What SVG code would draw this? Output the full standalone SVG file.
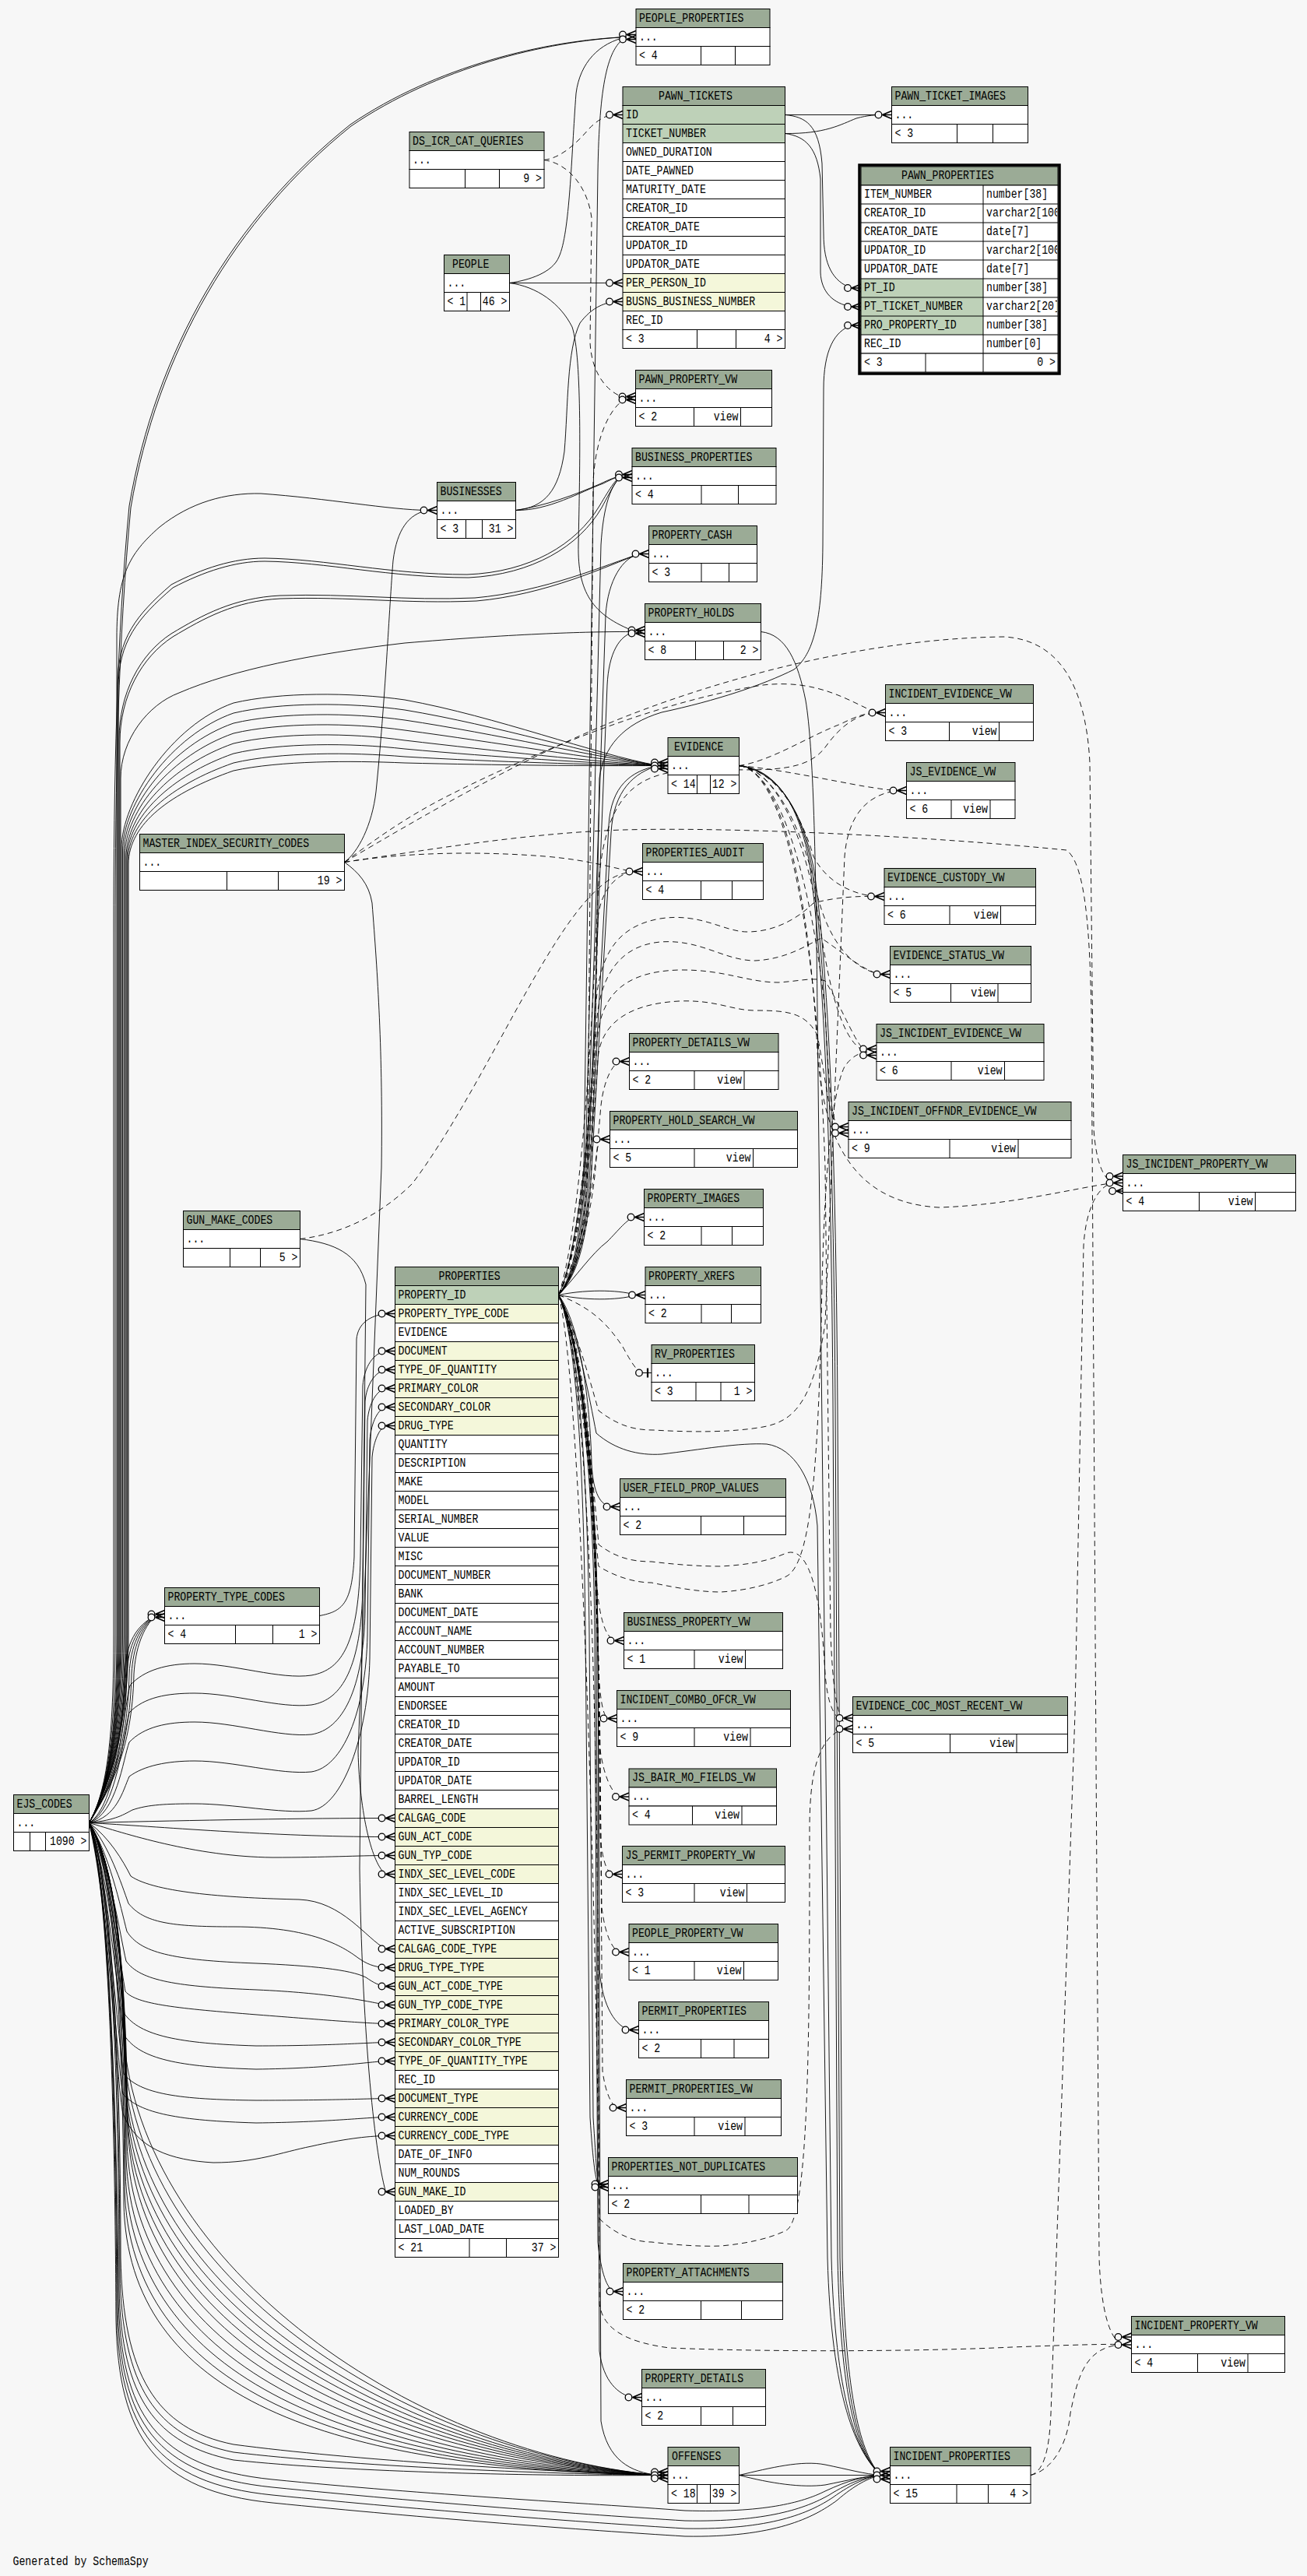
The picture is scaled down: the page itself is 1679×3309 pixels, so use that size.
<svg xmlns="http://www.w3.org/2000/svg" width="1679" height="3309" viewBox="0 0 1679 3309">
<style>
.h{fill:#9bab96;stroke:#000;stroke-width:1}
.w{fill:#fff;stroke:#000;stroke-width:1}
.k{fill:#bed1b8}
.f{fill:#f4f7da}
.s{fill:none;stroke:#000;stroke-width:1}
.t{font-family:"Liberation Mono","DejaVu Sans Mono",monospace;font-size:13.2px;fill:#000}
.e{text-anchor:end}
.c{fill:none;stroke:#000;stroke-width:0.9}
.d{fill:none;stroke:#000;stroke-width:0.9;stroke-dasharray:7 5}
</style>
<defs>
<g id="cf"><path d="M-12,0L0,-5M-12,0L0,0M-12,0L0,5" fill="none" stroke="#000" stroke-width="1.6"/><circle cx="-17" cy="0" r="4.3" fill="#f7f7f7" stroke="#000" stroke-width="1.3"/></g>
<g id="c1"><path d="M-12,0H0" fill="none" stroke="#000" stroke-width="1"/><path d="M-5,-6V6" stroke="#000" stroke-width="2.2"/><circle cx="-16" cy="0" r="4.3" fill="#f7f7f7" stroke="#000" stroke-width="1.3"/></g>
<clipPath id="ppc"><rect x="0" y="0" width="252" height="264"/></clipPath>
</defs>
<rect width="1679" height="3309" fill="#f7f7f7"/>

<g id="connectors">
<!-- EJS_CODES upward -->
<path class="c" d="M114.5,2341.5C138,2300 146,2230 146,2100L146,1200C146,1000 150,820 166,650C200,450 300,280 450,160C560,85 700,52 805,47.5"/>
<path class="c" d="M114.5,2341.5C138,2300 148,2230 148,2100L148,1200C148,1000 152,822 168,652C202,452 302,282 451,162C561,87 700,53 805,47.5"/>
<path class="c" d="M114.5,2341.5C138,2300 150,2230 150,2100L150,820C150,740 165,712 205,677C245,645 290,633 335,634C420,640 500,655 549.5,655.5"/>
<path class="c" d="M114.5,2341.5C138,2300 151,2230 151,2100L151,880C151,820 175,790 220,751C260,730 300,717 340,717C420,718 500,738 600,738C680,735 740,700 770,650C785,625 792,613 800,611.5"/>
<path class="c" d="M114.5,2341.5C138,2300 152,2230 152,2100L152,884C152,824 177,794 222,755C262,734 302,721 340,721C420,722 500,742 602,742C684,738 744,702 773,652C787,626 793,613 800,611.5"/>
<path class="c" d="M114.5,2341.5C138,2300 153,2230 153,2100L153,950C153,890 180,840 220,814C260,790 300,768 360,765C450,762 520,772 610,768C700,760 780,725 821.5,711.5"/>
<path class="c" d="M114.5,2341.5C138,2300 154,2230 154,2100L154,954C154,894 182,844 222,818C262,794 302,772 360,769C450,766 520,776 612,772C702,764 780,727 821.5,711.5"/>
<path class="c" d="M114.5,2341.5C138,2300 155,2230 155,2100L155,1000C155,950 190,905 230,890C300,860 400,840 520,826C650,815 750,811 816.5,811.5"/>
<path class="c" d="M114.5,2341.5C138,2300 156,2230 156,2100L156,1090C156,1030 220,931 300,903C360,889 450,889 520,899C640,921 760,968 846,983.5"/>
<path class="c" d="M114.5,2341.5C138,2300 157.5,2230 157.5,2100L157.5,1092C157.5,1034 220,944 300,916C360,902 450,902 520,912C640,932 760,970 846,983.5"/>
<path class="c" d="M114.5,2341.5C138,2300 159,2230 159,2100L159,1095C159,1038 220,957 300,929C360,915 450,915 520,925C640,943 760,972 846,983.5"/>
<path class="c" d="M114.5,2341.5C138,2300 160.5,2230 160.5,2100L160.5,1098C160.5,1042 220,970 300,942C360,928 450,928 520,938C640,954 760,975 846,983.5"/>
<path class="c" d="M114.5,2341.5C138,2300 162,2230 162,2100L162,1101C162,1046 220,983 300,955C360,941 450,941 520,951C640,965 760,978 846,983.5"/>
<path class="c" d="M114.5,2341.5C138,2300 163,2230 163,2100L163,1104C163,1050 220,996 300,968C360,954 450,954 520,962C640,973 760,980 846,983.5"/>
<path class="c" d="M114.5,2341.5C138,2300 164,2230 164,2100L164,1107C164,1054 220,1008 300,980C360,966 450,966 520,972C640,979 760,982 846,983.5"/>
<path class="c" d="M114.5,2341.5C138,2300 165,2230 165,2100L165,1110C165,1058 220,1018 300,990C360,977 450,977 520,980C640,983 760,984 846,983.5"/>
<!-- EJS to PROPERTY_TYPE_CODES -->
<path class="c" d="M114.5,2341.5C140,2300 158,2250 160,2150C162,2110 175,2088 199.5,2075.5"/>
<path class="c" d="M114.5,2341.5C140,2300 161,2250 163,2150C165,2112 177,2089 199.5,2075.5"/>
<path class="c" d="M114.5,2341.5C140,2300 164,2250 166,2150C168,2114 179,2090 199.5,2075.5"/>
<path class="c" d="M114.5,2341.5C140,2300 167,2250 169,2150C171,2116 181,2091 199.5,2075.5"/>
<path class="c" d="M114.5,2341.5C140,2300 170,2250 172,2150C174,2118 183,2092 199.5,2075.5"/>
<!-- EJS to PROPERTIES fk rows -->
<path class="c" d="M114.5,2341.5C250,2338 400,2335.5 495.5,2335.5"/>
<path class="c" d="M114.5,2341.5C200,2346 350,2359.5 495.5,2359.5"/>
<path class="c" d="M114.5,2341.5C160,2355 250,2385 350,2386C420,2386 460,2383.5 495.5,2383.5"/>
<path class="c" d="M114.5,2341.5C140,2360 158,2390 168,2410C200,2432 300,2438 384,2440C440,2442 470,2490 495.5,2503.5"/>
<path class="c" d="M114.5,2341.5C140,2370 156,2420 165,2445C185,2470 220,2475 300,2475C400,2475 440,2500 460,2515C470,2522 480,2527 495.5,2527.5"/>
<path class="c" d="M114.5,2341.5C140,2380 155,2450 163,2481C180,2508 220,2518 329,2522C400,2525 450,2530 470,2540C480,2547 488,2551 495.5,2551.5"/>
<path class="c" d="M114.5,2341.5C140,2390 155,2490 162,2519C180,2545 230,2552 330,2556C420,2560 470,2570 495.5,2575.5"/>
<path class="c" d="M114.5,2341.5C140,2400 154,2520 161,2558C175,2575 230,2580 330,2588C420,2595 470,2599 495.5,2599.5"/>
<path class="c" d="M114.5,2341.5C140,2410 153,2550 160,2587C180,2615 230,2625 329,2628C420,2628 470,2624 495.5,2623.5"/>
<path class="c" d="M114.5,2341.5C140,2420 152,2580 160,2615C180,2645 230,2655 329,2658C420,2657 470,2649 495.5,2647.5"/>
<path class="c" d="M114.5,2341.5C140,2430 151,2620 159,2664C180,2690 230,2697 329,2698C420,2698 470,2696 495.5,2695.5"/>
<path class="c" d="M114.5,2341.5C140,2440 150,2650 158,2690C180,2715 230,2724 329,2727C420,2726 470,2720 495.5,2719.5"/>
<path class="c" d="M114.5,2341.5C140,2450 150,2680 158,2715C175,2760 220,2775 274,2778C330,2778 360,2765 400,2757C440,2748 470,2744 495.5,2743.5"/>
<path class="c" d="M114.5,2341.5C150,2320 158,2200 167,2165C185,2145 215,2137 250,2137C300,2137 360,2158 400,2152C440,2145 461,2110 463,2000L466,1780C468,1755 480,1738 495.5,1735.5"/>
<path class="c" d="M114.5,2341.5C150,2325 158,2230 166,2200C185,2180 215,2175 250,2175C300,2175 360,2195 400,2190C440,2184 464,2140 466,2040L469,1800C471,1778 482,1762 495.5,1759.5"/>
<path class="c" d="M114.5,2341.5C150,2330 158,2260 166,2238C185,2218 215,2212 250,2212C300,2212 360,2232 400,2228C440,2222 467,2170 469,2070L472,1825C474,1802 484,1786 495.5,1783.5"/>
<path class="c" d="M114.5,2341.5C150,2335 158,2300 166,2282C185,2268 215,2262 250,2262C300,2262 360,2280 400,2276C440,2270 470,2200 472,2100L475,1850C477,1826 486,1810 495.5,1807.5"/>
<path class="c" d="M114.5,2341.5C150,2338 160,2330 170,2325C190,2318 215,2317 250,2317C300,2317 360,2330 400,2326C440,2320 473,2230 475,2130L478,1872C480,1850 488,1834 495.5,1831.5"/>
<path class="c" d="M410.5,2075.5C440,2070 452,2060 455,2000L458,1720C460,1700 475,1690 495.5,1687.5"/>
<path class="c" d="M385.5,1591.5C430,1597 460,1610 470,1650L462,2400C465,2600 480,2760 495.5,2815.5"/>
<path class="c" d="M442.5,1107.5C460,1120 474,1135 478,1160C485,1250 492,1350 490,1500L460,2250C462,2330 478,2395 495.5,2407.5"/>
<path class="c" d="M442.5,1107.5C460,1095 478,1060 483,1017C495,900 500,780 505,720C510,680 525,660 549.5,655.5"/>
<!-- EJS to OFFENSES -->
<path class="c" d="M114.5,2341.5C145,2390 156,2500 158,2600C168,2900 520,3150 846,3179.5"/>
<path class="c" d="M114.5,2341.5C145,2390 157,2500 159,2625C169,2925 520,3150 846,3179.5"/>
<path class="c" d="M114.5,2341.5C145,2390 158,2500 160,2650C170,2950 520,3152 846,3179.5"/>
<path class="c" d="M114.5,2341.5C145,2390 159,2500 161,2670C171,2970 520,3154 846,3179.5"/>
<path class="c" d="M114.5,2341.5C145,2390 160,2500 162,2690C172,2990 520,3156 846,3179.5"/>
<path class="c" d="M114.5,2341.5C145,2390 161,2500 163,2710C173,3010 520,3158 846,3179.5"/>
<path class="c" d="M114.5,2341.5C145,2390 162,2500 164,2730C174,3030 520,3160 846,3179.5"/>
<path class="c" d="M114.5,2341.5C145,2390 162,2520 163,2750C172,3040 500,3162 846,3179.5"/>
<path class="c" d="M114.5,2341.5C145,2390 161,2540 162,2770C170,3050 480,3164 846,3179.5"/>
<path class="c" d="M114.5,2341.5C145,2390 160,2560 161,2790C168,3060 460,3166 846,3179.5"/>
<path class="c" d="M114.5,2341.5C145,2390 159,2580 160,2810C166,3070 440,3168 846,3179.5"/>
<path class="c" d="M114.5,2341.5C145,2390 158,2600 159,2830C164,3080 420,3170 846,3179.5"/>
<path class="c" d="M114.5,2341.5C140,2400 155,2600 155,2900C158,3050 200,3120 300,3140C450,3160 700,3175 846,3179.5"/>
<path class="c" d="M114.5,2341.5C140,2400 154,2620 154,2920C157,3065 200,3130 300,3150C450,3168 700,3178 846,3179.5"/>
<path class="c" d="M114.5,2341.5C140,2400 153,2640 153,2940C156,3080 200,3140 300,3160C450,3176 700,3181 846,3179.5"/>
<!-- EJS to INCIDENT_PROPERTIES -->
<path class="c" d="M114.5,2341.5C140,2420 150,2700 152,2950C155,3100 200,3170 350,3185C550,3205 750,3215 880,3225C980,3228 1030,3215 1060,3200C1090,3186 1110,3181 1131.5,3179.5"/>
<path class="c" d="M114.5,2341.5C140,2420 150,2710 151,2960C154,3110 200,3180 350,3195C550,3215 750,3230 880,3238C985,3240 1035,3222 1065,3205C1092,3188 1112,3182 1131.5,3179.5"/>
<path class="c" d="M114.5,2341.5C140,2420 149,2720 150,2970C153,3120 200,3190 350,3205C550,3225 750,3240 880,3248C990,3250 1040,3228 1070,3208C1095,3190 1114,3182 1131.5,3179.5"/>
<path class="c" d="M114.5,2341.5C140,2420 148,2730 149,2980C152,3130 200,3200 350,3215C550,3235 750,3250 880,3258C995,3260 1045,3234 1075,3212C1098,3192 1116,3183 1131.5,3179.5"/>
<!-- OFFENSES to INCIDENT_PROPERTIES -->
<path class="c" d="M949.5,3179.5L1131.5,3179.5"/>
<path class="c" d="M949.5,3179.5C990,3170 1030,3160 1060,3166C1090,3172 1110,3178 1131.5,3179.5"/>
<path class="c" d="M949.5,3179.5C990,3190 1030,3196 1060,3192C1090,3186 1110,3181 1131.5,3179.5"/>
<!-- PAWN_TICKETS -->
<path class="c" d="M1008.5,147.5L1133.5,147.5"/>
<path class="c" d="M1008.5,171.5C1060,172 1080,160 1100,152C1115,148 1125,147.5 1133.5,147.5"/>
<path class="c" d="M1008.5,147.5C1035,150 1052,160 1056,210L1058,300C1058,340 1070,362 1094,370"/>
<path class="c" d="M1008.5,171.5C1035,175 1050,190 1054,230L1054,350C1055,375 1070,390 1094,394"/>
<!-- PEOPLE -->
<path class="c" d="M654.5,363.5C680,360 710,350 718,330C732,300 734,200 740,120C745,80 770,55 805,47.5"/>
<path class="c" d="M654.5,363.5L788,363.5"/>
<path class="c" d="M654.5,363.5C690,368 720,390 735,420C748,460 745,600 743,700C742,760 760,790 816.5,811.5"/>
<!-- BUSINESSES -->
<path class="c" d="M662.5,655.5C700,652 718,630 725,580C730,520 728,450 745,415C760,395 775,390 788,387.5"/>
<path class="c" d="M662.5,655.5C700,650 740,635 770,622C785,615 792,612 800,611.5"/>
<path class="c" d="M662.5,655.5C705,656 745,632 775,621C787,615 793,612 800,611.5"/>
<!-- DS_ICR_CAT_QUERIES -->
<path class="d" d="M699,205.5C720,203 740,185 757,165C770,152 780,148 788,147.5"/>
<path class="d" d="M699,205.5C730,210 755,240 760,280L758,440C760,480 780,505 804.5,511.5"/>
<!-- MASTER_INDEX_SECURITY_CODES dashed -->
<path class="d" d="M442.5,1107.5C520,1095 611,1093 700,1100C760,1105 790,1116 813.5,1119.5"/>
<path class="d" d="M442.5,1107.5C480,1080 520,1050 580,1020C700,960 850,900 980,880C1050,872 1090,900 1125.5,915.5"/>
<path class="d" d="M442.5,1107.5C540,1050 660,980 780,930C900,880 1100,820 1290,818C1360,822 1395,880 1400,980L1405,1450C1408,1495 1418,1515 1430.5,1519.5"/>
<path class="d" d="M442.5,1107.5C560,1090 680,1070 800,1066C950,1062 1200,1075 1370,1092C1395,1110 1400,1200 1402,1300L1412,2900C1414,2965 1425,3005 1441.5,3011.5"/>
<path class="d" d="M385.5,1591.5C440,1585 490,1560 530,1520C620,1400 700,1200 770,1140C785,1126 800,1121 813.5,1119.5"/>
<!-- PROPERTIES.PROPERTY_ID solid -->
<path class="c" d="M717.5,1663.5C735,1640 745,1600 750,1500L768,220C770,110 780,60 805,47.5"/>
<path class="c" d="M717.5,1663.5C736,1640 747,1600 752,1500L772,700C775,650 785,620 800,611.5"/>
<path class="c" d="M717.5,1663.5C737,1640 749,1600 754,1500L778,790C781,745 800,716 821.5,711.5"/>
<path class="c" d="M717.5,1663.5C738,1640 751,1600 756,1500L780,880C782,840 795,815 816.5,811.5"/>
<path class="c" d="M717.5,1663.5C739,1640 753,1600 758,1500L782,1060C785,1010 810,990 846,983.5"/>
<path class="c" d="M717.5,1663.5C740,1640 755,1600 760,1500L785,1070C788,1015 815,992 846,983.5"/>
<path class="c" d="M717.5,1663.5C740,1640 760,1610 780,1595C795,1580 805,1566 815.5,1563.5"/>
<path class="c" d="M717.5,1663.5C740,1620 760,1450 765,1300L770,1000C775,960 800,930 850,915C920,900 980,880 1020,860C1045,840 1056,800 1057,700L1058,500C1058,450 1072,425 1094,418"/>
<path class="c" d="M717.5,1663.5C760,1655 800,1658 817,1663.5"/>
<path class="c" d="M717.5,1663.5C760,1672 800,1669 817,1663.5"/>
<path class="c" d="M717.5,1663.5C745,1700 758,1800 760,1880C762,1920 772,1933 784.5,1935.5"/>
<path class="c" d="M717.5,1663.5C745,1720 765,1900 768,2100L770,2530C774,2580 792,2603 808.5,2607.5"/>
<path class="c" d="M717.5,1663.5C742,1720 750,1900 752,2100L758,2720C762,2780 765,2802 769.5,2807.5"/>
<path class="c" d="M717.5,1663.5C744,1720 755,1900 757,2100L762,2720C766,2780 767,2802 769.5,2807.5"/>
<path class="c" d="M717.5,1663.5C746,1720 762,1900 764,2100L768,2880C772,2920 780,2940 788.5,2943.5"/>
<path class="c" d="M717.5,1663.5C747,1720 764,1900 766,2100L770,3020C775,3060 795,3076 812.5,3079.5"/>
<path class="c" d="M717.5,1663.5C748,1720 766,1900 768,2100L772,3110C780,3160 810,3176 846,3179.5"/>
<path class="c" d="M717.5,1663.5C740,1700 758,1800 766,1841C790,1862 820,1870 850,1868C900,1862 950,1853 985,1855C1020,1860 1045,1900 1050,1960L1063,2900C1068,3080 1100,3150 1131.5,3179.5"/>
<!-- PROPERTIES.PROPERTY_ID dashed -->
<path class="d" d="M717.5,1663.5C738,1640 752,1580 755,1500L762,620C764,570 780,525 804.5,511.5"/>
<path class="d" d="M717.5,1663.5C739,1640 756,1580 760,1500L768,1180C772,1140 795,1122 813.5,1119.5"/>
<path class="d" d="M717.5,1663.5C740,1640 760,1560 765,1500L772,1420C776,1385 788,1366 796.5,1363.5"/>
<path class="d" d="M717.5,1663.5C740,1620 758,1550 764,1500C767,1480 768,1466 771.5,1463.5"/>
<path class="d" d="M717.5,1663.5C740,1600 758,1400 768,1150C774,1030 810,995 880,990C960,985 1030,1000 1060,960C1080,932 1100,918 1125.5,915.5"/>
<path class="d" d="M717.5,1663.5C740,1620 758,1450 765,1300C768,1230 790,1190 848,1180C900,1172 930,1197 960,1197C1000,1197 1030,1175 1045,1160C1075,1152 1105,1151 1124,1151.5"/>
<path class="d" d="M717.5,1663.5C740,1620 759,1470 766,1320C769,1255 795,1215 848,1210C900,1206 930,1234 970,1234C1010,1232 1035,1215 1055,1205C1085,1225 1110,1248 1131.5,1251.5"/>
<path class="d" d="M717.5,1663.5C740,1620 760,1480 767,1340C770,1280 800,1248 872,1246C930,1245 960,1262 1000,1262C1030,1260 1045,1255 1060,1260C1085,1300 1100,1345 1114,1351.5"/>
<path class="d" d="M717.5,1663.5C740,1620 761,1490 768,1360C771,1320 800,1290 872,1286C920,1284 940,1298 970,1298C1010,1298 1035,1300 1050,1330C1060,1380 1065,1440 1078,1451.5"/>
<path class="d" d="M717.5,1663.5C760,1680 780,1700 800,1730C812,1752 818,1761 825,1763.5"/>
<path class="d" d="M717.5,1663.5C745,1710 762,1850 765,2000C767,2080 778,2102 789.5,2107.5"/>
<path class="d" d="M717.5,1663.5C746,1715 763,1880 766,2050C768,2170 772,2200 780.5,2207.5"/>
<path class="d" d="M717.5,1663.5C747,1720 765,1900 768,2100L770,2240C775,2285 788,2305 796,2308"/>
<path class="d" d="M717.5,1663.5C748,1720 766,1920 769,2150L771,2360C775,2395 780,2405 787.5,2407.5"/>
<path class="d" d="M717.5,1663.5C749,1720 767,1950 770,2200L773,2450C778,2490 788,2505 796,2507.5"/>
<path class="d" d="M717.5,1663.5C750,1720 768,1980 771,2250L774,2660C778,2690 786,2704 792.5,2707.5"/>
<path class="d" d="M717.5,1663.5C745,1720 765,2000 768,2500L770,2960C775,2990 800,3008 860,3016C1000,3022 1200,3020 1300,3015C1380,3012 1420,3011 1441.5,3011.5"/>
<path class="d" d="M717.5,1663.5C745,1720 762,1790 769,1812C795,1832 815,1837 840,1837C890,1840 940,1840 980,1833C1020,1826 1045,1800 1060,1700L1085,1100C1090,1040 1120,1020 1152.5,1015.5"/>
<path class="d" d="M717.5,1663.5C745,1720 762,1900 769,1984C790,2000 810,2006 837,2006C870,2010 900,2012 926,2012C960,2010 985,2006 1010,1995C1040,1985 1055,2050 1060,2150C1063,2190 1072,2207 1083.5,2211"/>
<path class="d" d="M717.5,1663.5C745,1730 762,1950 769,2012C790,2025 815,2033 837,2033C870,2040 900,2045 926,2045C960,2043 990,2035 1010,2025C1040,2010 1050,1900 1055,1700C1058,1500 1070,1400 1085,1370C1095,1356 1105,1352 1114,1351.5"/>
<path class="d" d="M717.5,1663.5C745,1760 765,2400 770,2850C790,2870 815,2880 837,2880C870,2884 900,2886 926,2885C960,2882 990,2875 1010,2865C1040,2850 1040,2600 1040,2350C1040,2280 1050,2232 1083.5,2221"/>
<!-- EVIDENCE -->
<path class="c" d="M949.5,983.5C1000,988 1028,1040 1040,1110C1060,1250 1068,1500 1070,1800L1076,2900C1080,3080 1100,3150 1131.5,3179.5"/>
<path class="c" d="M949.5,983.5C1002,990 1031,1045 1043,1115C1063,1255 1071,1505 1073,1805L1079,2900C1083,3080 1103,3152 1131.5,3179.5"/>
<path class="c" d="M949.5,983.5C1004,992 1034,1050 1046,1120C1066,1260 1074,1510 1076,1810L1082,2900C1086,3080 1106,3154 1131.5,3179.5"/>
<path class="d" d="M949.5,983.5C990,978 1040,945 1080,930C1100,920 1112,916 1125.5,915.5"/>
<path class="d" d="M949.5,983.5C1000,988 1070,1003 1110,1010C1130,1013 1140,1015 1152.5,1015.5"/>
<path class="d" d="M949.5,983.5C1000,990 1030,1050 1045,1100C1060,1130 1090,1148 1124,1151.5"/>
<path class="d" d="M949.5,983.5C1000,990 1035,1080 1050,1150C1065,1210 1095,1245 1131.5,1251.5"/>
<path class="d" d="M949.5,983.5C1005,990 1040,1100 1055,1200C1070,1300 1090,1345 1114,1351.5"/>
<path class="d" d="M949.5,983.5C1005,990 1045,1150 1060,1300C1065,1400 1068,1440 1078,1451.5"/>
<path class="d" d="M949.5,983.5C1010,990 1050,1200 1060,1500L1067,2100C1070,2170 1075,2200 1083.5,2211"/>
<path class="d" d="M949.5,983.5C1005,990 1040,1150 1050,1350C1058,1470 1100,1545 1206,1551C1300,1548 1380,1526 1430.5,1519.5"/>
<!-- PROPERTY_HOLDS -->
<path class="c" d="M977.5,811.5C1010,815 1025,850 1035,900C1045,960 1048,1100 1050,1300L1068,2900C1073,3080 1100,3150 1131.5,3179.5"/>
<!-- INCIDENT_PROPERTIES dashed -->
<path class="d" d="M1324,3179.5C1340,3175 1348,3150 1350,3100L1381,2200L1392,1600C1395,1550 1412,1522 1430.5,1519.5"/>
<path class="d" d="M1324,3179.5C1345,3175 1370,3150 1375,3100C1385,3050 1395,3015 1441.5,3011.5"/>

<!-- connector ends -->
<use href="#cf" x="817" y="44.5"/><use href="#cf" x="817" y="50.5"/>
<use href="#cf" x="800" y="147.5"/>
<use href="#cf" x="800" y="363.5"/>
<use href="#cf" x="800" y="387.5"/>
<use href="#cf" x="1145.5" y="147.5"/>
<use href="#cf" x="1106" y="370"/>
<use href="#cf" x="1106" y="394"/>
<use href="#cf" x="1106" y="418"/>
<use href="#cf" x="816.5" y="509.5"/><use href="#cf" x="816.5" y="513.5"/>
<use href="#cf" x="812" y="609.5"/><use href="#cf" x="812" y="613.5"/>
<use href="#cf" x="561.5" y="655.5"/>
<use href="#cf" x="833.5" y="711.5"/>
<use href="#cf" x="828.5" y="809.5"/><use href="#cf" x="828.5" y="813.5"/>
<use href="#cf" x="1137.5" y="915.5"/>
<use href="#cf" x="858" y="979.5"/><use href="#cf" x="858" y="983.5"/><use href="#cf" x="858" y="987.5"/>
<use href="#cf" x="1164.5" y="1015.5"/>
<use href="#cf" x="825.5" y="1119.5"/>
<use href="#cf" x="1136" y="1151.5"/>
<use href="#cf" x="1143.5" y="1251.5"/>
<use href="#cf" x="1126" y="1347.5"/><use href="#cf" x="1126" y="1355.5"/>
<use href="#cf" x="808.5" y="1363.5"/>
<use href="#cf" x="1090" y="1447.5"/><use href="#cf" x="1090" y="1455.5"/>
<use href="#cf" x="783.5" y="1463.5"/>
<use href="#cf" x="1442.5" y="1511"/><use href="#cf" x="1442.5" y="1519.5"/><use href="#cf" x="1446" y="1530"/>
<use href="#cf" x="827.5" y="1563.5"/>
<use href="#cf" x="829" y="1663.5"/>
<use href="#c1" x="837" y="1763.5"/>
<use href="#cf" x="796.5" y="1935.5"/>
<use href="#cf" x="211.5" y="2073.5"/><use href="#cf" x="211.5" y="2077.5"/>
<use href="#cf" x="801.5" y="2107.5"/>
<use href="#cf" x="792.5" y="2207.5"/>
<use href="#cf" x="1095.5" y="2207"/><use href="#cf" x="1095.5" y="2221"/>
<use href="#cf" x="808" y="2308"/>
<use href="#cf" x="799.5" y="2407.5"/>
<use href="#cf" x="808" y="2507.5"/>
<use href="#cf" x="820.5" y="2607.5"/>
<use href="#cf" x="804.5" y="2707.5"/>
<use href="#cf" x="781.5" y="2805.5"/><use href="#cf" x="781.5" y="2809.5"/>
<use href="#cf" x="800.5" y="2943.5"/>
<use href="#cf" x="1453.5" y="3002"/><use href="#cf" x="1453.5" y="3012"/>
<use href="#cf" x="824.5" y="3079.5"/>
<use href="#cf" x="858" y="3175.5"/><use href="#cf" x="858" y="3179.5"/><use href="#cf" x="858" y="3183.5"/>
<use href="#cf" x="1143.5" y="3174.5"/><use href="#cf" x="1143.5" y="3179.5"/><use href="#cf" x="1143.5" y="3184.5"/>
<use href="#cf" x="507.5" y="1687.5"/>
<use href="#cf" x="507.5" y="1735.5"/>
<use href="#cf" x="507.5" y="1759.5"/>
<use href="#cf" x="507.5" y="1783.5"/>
<use href="#cf" x="507.5" y="1807.5"/>
<use href="#cf" x="507.5" y="1831.5"/>
<use href="#cf" x="507.5" y="2335.5"/>
<use href="#cf" x="507.5" y="2359.5"/>
<use href="#cf" x="507.5" y="2383.5"/>
<use href="#cf" x="507.5" y="2407.5"/>
<use href="#cf" x="507.5" y="2503.5"/>
<use href="#cf" x="507.5" y="2527.5"/>
<use href="#cf" x="507.5" y="2551.5"/>
<use href="#cf" x="507.5" y="2575.5"/>
<use href="#cf" x="507.5" y="2599.5"/>
<use href="#cf" x="507.5" y="2623.5"/>
<use href="#cf" x="507.5" y="2647.5"/>
<use href="#cf" x="507.5" y="2695.5"/>
<use href="#cf" x="507.5" y="2719.5"/>
<use href="#cf" x="507.5" y="2743.5"/>
<use href="#cf" x="507.5" y="2815.5"/>
</g>

<g id="PEOPLE_PROPERTIES" transform="translate(817,11.5)"><rect class="h" width="172" height="24"/><rect class="w" y="24" width="172" height="24"/><rect class="w" y="48" width="172" height="24"/><path class="s" d="M83.5,48v24M127.5,48v24"/><g class="t" transform="scale(1,1.2)"><text x="4" y="13.75">PEOPLE_PROPERTIES</text><text x="4" y="33.75">...</text><text x="4" y="53.75">&lt; 4</text></g></g>

<g id="PAWN_TICKETS" transform="translate(800,111.5)"><rect class="h" width="208.5" height="24"/><rect y="24" width="208.5" height="288" fill="#fff"/><rect class="k" y="24" width="208.5" height="48"/><rect class="f" y="240" width="208.5" height="48"/><path class="s" d="M0,48h208.5m-208.5,24h208.5m-208.5,24h208.5m-208.5,24h208.5m-208.5,24h208.5m-208.5,24h208.5m-208.5,24h208.5m-208.5,24h208.5m-208.5,24h208.5m-208.5,24h208.5m-208.5,24h208.5"/><rect class="s" y="24" width="208.5" height="288"/><rect class="w" y="312" width="208.5" height="24"/><path class="s" d="M95.5,312v24M145.5,312v24"/><g class="t" transform="scale(1,1.2)"><text x="46" y="13.75">PAWN_TICKETS</text><text x="4" y="33.75">ID</text><text x="4" y="53.75">TICKET_NUMBER</text><text x="4" y="73.75">OWNED_DURATION</text><text x="4" y="93.75">DATE_PAWNED</text><text x="4" y="113.75">MATURITY_DATE</text><text x="4" y="133.75">CREATOR_ID</text><text x="4" y="153.75">CREATOR_DATE</text><text x="4" y="173.75">UPDATOR_ID</text><text x="4" y="193.75">UPDATOR_DATE</text><text x="4" y="213.75">PER_PERSON_ID</text><text x="4" y="233.75">BUSNS_BUSINESS_NUMBER</text><text x="4" y="253.75">REC_ID</text><text x="4" y="273.75">&lt; 3</text><text class="e" x="205.5" y="273.75">4 &gt;</text></g></g>

<g id="PAWN_TICKET_IMAGES" transform="translate(1145.5,111.5)"><rect class="h" width="175" height="24"/><rect class="w" y="24" width="175" height="24"/><rect class="w" y="48" width="175" height="24"/><path class="s" d="M84,48v24M130,48v24"/><g class="t" transform="scale(1,1.2)"><text x="4" y="13.75">PAWN_TICKET_IMAGES</text><text x="4" y="33.75">...</text><text x="4" y="53.75">&lt; 3</text></g></g>

<g id="DS_ICR_CAT_QUERIES" transform="translate(526,169.5)"><rect class="h" width="173" height="24"/><rect class="w" y="24" width="173" height="24"/><rect class="w" y="48" width="173" height="24"/><path class="s" d="M71.5,48v24M115.5,48v24"/><g class="t" transform="scale(1,1.2)"><text x="4" y="13.75">DS_ICR_CAT_QUERIES</text><text x="4" y="33.75">...</text><text class="e" x="170" y="53.75">9 &gt;</text></g></g>

<g id="PEOPLE" transform="translate(570.5,327.5)"><rect class="h" width="84" height="24"/><rect class="w" y="24" width="84" height="24"/><rect class="w" y="48" width="84" height="24"/><path class="s" d="M29.5,48v24M47,48v24"/><g class="t" transform="scale(1,1.2)"><text x="10.5" y="13.75">PEOPLE</text><text x="4" y="33.75">...</text><text x="4" y="53.75">&lt; 1</text><text class="e" x="81" y="53.75">46 &gt;</text></g></g>

<g id="PAWN_PROPERTIES" transform="translate(1106,214)"><rect x="-2" y="-2" width="257" height="268" fill="none" stroke="#000" stroke-width="3.5"/><rect class="h" width="253" height="24"/><rect y="24" width="253" height="216" fill="#fff"/><rect class="k" y="144" width="157" height="72"/><path class="s" d="M0,48h253m-253,24h253m-253,24h253m-253,24h253m-253,24h253m-253,24h253m-253,24h253m-253,24h253M157,24v216"/><rect class="s" y="24" width="253" height="216"/><rect class="w" y="240" width="253" height="24"/><path class="s" d="M83,240v24M157,240v24"/><g clip-path="url(#ppc)"><g class="t" transform="scale(1,1.2)"><text x="52" y="13.75">PAWN_PROPERTIES</text><text x="4" y="33.75">ITEM_NUMBER</text><text x="161" y="33.75">number[38]</text><text x="4" y="53.75">CREATOR_ID</text><text x="161" y="53.75">varchar2[100]</text><text x="4" y="73.75">CREATOR_DATE</text><text x="161" y="73.75">date[7]</text><text x="4" y="93.75">UPDATOR_ID</text><text x="161" y="93.75">varchar2[100]</text><text x="4" y="113.75">UPDATOR_DATE</text><text x="161" y="113.75">date[7]</text><text x="4" y="133.75">PT_ID</text><text x="161" y="133.75">number[38]</text><text x="4" y="153.75">PT_TICKET_NUMBER</text><text x="161" y="153.75">varchar2[20]</text><text x="4" y="173.75">PRO_PROPERTY_ID</text><text x="161" y="173.75">number[38]</text><text x="4" y="193.75">REC_ID</text><text x="161" y="193.75">number[0]</text><text x="4" y="213.75">&lt; 3</text><text class="e" x="250" y="213.75">0 &gt;</text></g></g></g>

<g id="PAWN_PROPERTY_VW" transform="translate(816.5,475.5)"><rect class="h" width="175" height="24"/><rect class="w" y="24" width="175" height="24"/><rect class="w" y="48" width="175" height="24"/><path class="s" d="M75,48v24M135,48v24"/><g class="t" transform="scale(1,1.2)"><text x="4" y="13.75">PAWN_PROPERTY_VW</text><text x="4" y="33.75">...</text><text x="4" y="53.75">&lt; 2</text><text class="e" x="132" y="53.75">view</text></g></g>

<g id="BUSINESS_PROPERTIES" transform="translate(812,575.5)"><rect class="h" width="185" height="24"/><rect class="w" y="24" width="185" height="24"/><rect class="w" y="48" width="185" height="24"/><path class="s" d="M89,48v24M136.5,48v24"/><g class="t" transform="scale(1,1.2)"><text x="4" y="13.75">BUSINESS_PROPERTIES</text><text x="4" y="33.75">...</text><text x="4" y="53.75">&lt; 4</text></g></g>

<g id="BUSINESSES" transform="translate(561.5,619.5)"><rect class="h" width="101" height="24"/><rect class="w" y="24" width="101" height="24"/><rect class="w" y="48" width="101" height="24"/><path class="s" d="M37,48v24M58,48v24"/><g class="t" transform="scale(1,1.2)"><text x="4" y="13.75">BUSINESSES</text><text x="4" y="33.75">...</text><text x="4" y="53.75">&lt; 3</text><text class="e" x="98" y="53.75">31 &gt;</text></g></g>

<g id="PROPERTY_CASH" transform="translate(833.5,675.5)"><rect class="h" width="139" height="24"/><rect class="w" y="24" width="139" height="24"/><rect class="w" y="48" width="139" height="24"/><path class="s" d="M67.5,48v24M103,48v24"/><g class="t" transform="scale(1,1.2)"><text x="4" y="13.75">PROPERTY_CASH</text><text x="4" y="33.75">...</text><text x="4" y="53.75">&lt; 3</text></g></g>

<g id="PROPERTY_HOLDS" transform="translate(828.5,775.5)"><rect class="h" width="149" height="24"/><rect class="w" y="24" width="149" height="24"/><rect class="w" y="48" width="149" height="24"/><path class="s" d="M65,48v24M101,48v24"/><g class="t" transform="scale(1,1.2)"><text x="4" y="13.75">PROPERTY_HOLDS</text><text x="4" y="33.75">...</text><text x="4" y="53.75">&lt; 8</text><text class="e" x="146" y="53.75">2 &gt;</text></g></g>

<g id="INCIDENT_EVIDENCE_VW" transform="translate(1137.5,879.5)"><rect class="h" width="190" height="24"/><rect class="w" y="24" width="190" height="24"/><rect class="w" y="48" width="190" height="24"/><path class="s" d="M82,48v24M146,48v24"/><g class="t" transform="scale(1,1.2)"><text x="4" y="13.75">INCIDENT_EVIDENCE_VW</text><text x="4" y="33.75">...</text><text x="4" y="53.75">&lt; 3</text><text class="e" x="143" y="53.75">view</text></g></g>

<g id="EVIDENCE" transform="translate(858,947.5)"><rect class="h" width="91.5" height="24"/><rect class="w" y="24" width="91.5" height="24"/><rect class="w" y="48" width="91.5" height="24"/><path class="s" d="M37.5,48v24M54.5,48v24"/><g class="t" transform="scale(1,1.2)"><text x="8" y="13.75">EVIDENCE</text><text x="4" y="33.75">...</text><text x="4" y="53.75">&lt; 14</text><text class="e" x="88.5" y="53.75">12 &gt;</text></g></g>

<g id="JS_EVIDENCE_VW" transform="translate(1164.5,979.5)"><rect class="h" width="139.5" height="24"/><rect class="w" y="24" width="139.5" height="24"/><rect class="w" y="48" width="139.5" height="24"/><path class="s" d="M57.5,48v24M107.5,48v24"/><g class="t" transform="scale(1,1.2)"><text x="4" y="13.75">JS_EVIDENCE_VW</text><text x="4" y="33.75">...</text><text x="4" y="53.75">&lt; 6</text><text class="e" x="104.5" y="53.75">view</text></g></g>

<g id="MASTER_INDEX_SECURITY_CODES" transform="translate(179.5,1071.5)"><rect class="h" width="263" height="24"/><rect class="w" y="24" width="263" height="24"/><rect class="w" y="48" width="263" height="24"/><path class="s" d="M112,48v24M178,48v24"/><g class="t" transform="scale(1,1.2)"><text x="4" y="13.75">MASTER_INDEX_SECURITY_CODES</text><text x="4" y="33.75">...</text><text class="e" x="260" y="53.75">19 &gt;</text></g></g>

<g id="PROPERTIES_AUDIT" transform="translate(825.5,1083.5)"><rect class="h" width="155" height="24"/><rect class="w" y="24" width="155" height="24"/><rect class="w" y="48" width="155" height="24"/><path class="s" d="M75,48v24M115,48v24"/><g class="t" transform="scale(1,1.2)"><text x="4" y="13.75">PROPERTIES_AUDIT</text><text x="4" y="33.75">...</text><text x="4" y="53.75">&lt; 4</text></g></g>

<g id="EVIDENCE_CUSTODY_VW" transform="translate(1136,1115.5)"><rect class="h" width="194.5" height="24"/><rect class="w" y="24" width="194.5" height="24"/><rect class="w" y="48" width="194.5" height="24"/><path class="s" d="M84,48v24M149.5,48v24"/><g class="t" transform="scale(1,1.2)"><text x="4" y="13.75">EVIDENCE_CUSTODY_VW</text><text x="4" y="33.75">...</text><text x="4" y="53.75">&lt; 6</text><text class="e" x="146.5" y="53.75">view</text></g></g>

<g id="EVIDENCE_STATUS_VW" transform="translate(1143.5,1215.5)"><rect class="h" width="181" height="24"/><rect class="w" y="24" width="181" height="24"/><rect class="w" y="48" width="181" height="24"/><path class="s" d="M78,48v24M138.5,48v24"/><g class="t" transform="scale(1,1.2)"><text x="4" y="13.75">EVIDENCE_STATUS_VW</text><text x="4" y="33.75">...</text><text x="4" y="53.75">&lt; 5</text><text class="e" x="135.5" y="53.75">view</text></g></g>

<g id="JS_INCIDENT_EVIDENCE_VW" transform="translate(1126,1315.5)"><rect class="h" width="215" height="24"/><rect class="w" y="24" width="215" height="24"/><rect class="w" y="48" width="215" height="24"/><path class="s" d="M96,48v24M164.5,48v24"/><g class="t" transform="scale(1,1.2)"><text x="4" y="13.75">JS_INCIDENT_EVIDENCE_VW</text><text x="4" y="33.75">...</text><text x="4" y="53.75">&lt; 6</text><text class="e" x="161.5" y="53.75">view</text></g></g>

<g id="PROPERTY_DETAILS_VW" transform="translate(808.5,1327.5)"><rect class="h" width="191.5" height="24"/><rect class="w" y="24" width="191.5" height="24"/><rect class="w" y="48" width="191.5" height="24"/><path class="s" d="M83.5,48v24M147.5,48v24"/><g class="t" transform="scale(1,1.2)"><text x="4" y="13.75">PROPERTY_DETAILS_VW</text><text x="4" y="33.75">...</text><text x="4" y="53.75">&lt; 2</text><text class="e" x="144.5" y="53.75">view</text></g></g>

<g id="JS_INCIDENT_OFFNDR_EVIDENCE_VW" transform="translate(1090,1415.5)"><rect class="h" width="286" height="24"/><rect class="w" y="24" width="286" height="24"/><rect class="w" y="48" width="286" height="24"/><path class="s" d="M130,48v24M218,48v24"/><g class="t" transform="scale(1,1.2)"><text x="4" y="13.75">JS_INCIDENT_OFFNDR_EVIDENCE_VW</text><text x="4" y="33.75">...</text><text x="4" y="53.75">&lt; 9</text><text class="e" x="215" y="53.75">view</text></g></g>

<g id="PROPERTY_HOLD_SEARCH_VW" transform="translate(783.5,1427.5)"><rect class="h" width="241" height="24"/><rect class="w" y="24" width="241" height="24"/><rect class="w" y="48" width="241" height="24"/><path class="s" d="M108.5,48v24M184,48v24"/><g class="t" transform="scale(1,1.2)"><text x="4" y="13.75">PROPERTY_HOLD_SEARCH_VW</text><text x="4" y="33.75">...</text><text x="4" y="53.75">&lt; 5</text><text class="e" x="181" y="53.75">view</text></g></g>

<g id="JS_INCIDENT_PROPERTY_VW" transform="translate(1442.5,1483.5)"><rect class="h" width="222" height="24"/><rect class="w" y="24" width="222" height="24"/><rect class="w" y="48" width="222" height="24"/><path class="s" d="M98,48v24M170,48v24"/><g class="t" transform="scale(1,1.2)"><text x="4" y="13.75">JS_INCIDENT_PROPERTY_VW</text><text x="4" y="33.75">...</text><text x="4" y="53.75">&lt; 4</text><text class="e" x="167" y="53.75">view</text></g></g>

<g id="PROPERTY_IMAGES" transform="translate(827.5,1527.5)"><rect class="h" width="153" height="24"/><rect class="w" y="24" width="153" height="24"/><rect class="w" y="48" width="153" height="24"/><path class="s" d="M73.5,48v24M113,48v24"/><g class="t" transform="scale(1,1.2)"><text x="4" y="13.75">PROPERTY_IMAGES</text><text x="4" y="33.75">...</text><text x="4" y="53.75">&lt; 2</text></g></g>

<g id="GUN_MAKE_CODES" transform="translate(235.5,1555.5)"><rect class="h" width="150" height="24"/><rect class="w" y="24" width="150" height="24"/><rect class="w" y="48" width="150" height="24"/><path class="s" d="M60,48v24M99,48v24"/><g class="t" transform="scale(1,1.2)"><text x="4" y="13.75">GUN_MAKE_CODES</text><text x="4" y="33.75">...</text><text class="e" x="147" y="53.75">5 &gt;</text></g></g>

<g id="PROPERTY_XREFS" transform="translate(829,1627.5)"><rect class="h" width="148.5" height="24"/><rect class="w" y="24" width="148.5" height="24"/><rect class="w" y="48" width="148.5" height="24"/><path class="s" d="M72,48v24M110.5,48v24"/><g class="t" transform="scale(1,1.2)"><text x="4" y="13.75">PROPERTY_XREFS</text><text x="4" y="33.75">...</text><text x="4" y="53.75">&lt; 2</text></g></g>

<g id="PROPERTIES" transform="translate(507.5,1627.5)"><rect class="h" width="210" height="24"/><rect y="24" width="210" height="1224" fill="#fff"/><rect class="k" y="24" width="210" height="24"/><rect class="f" y="48" width="210" height="24"/><rect class="f" y="96" width="210" height="120"/><rect class="f" y="696" width="210" height="96"/><rect class="f" y="864" width="210" height="168"/><rect class="f" y="1056" width="210" height="72"/><rect class="f" y="1176" width="210" height="24"/><path class="s" d="M0,48h210m-210,24h210m-210,24h210m-210,24h210m-210,24h210m-210,24h210m-210,24h210m-210,24h210m-210,24h210m-210,24h210m-210,24h210m-210,24h210m-210,24h210m-210,24h210m-210,24h210m-210,24h210m-210,24h210m-210,24h210m-210,24h210m-210,24h210m-210,24h210m-210,24h210m-210,24h210m-210,24h210m-210,24h210m-210,24h210m-210,24h210m-210,24h210m-210,24h210m-210,24h210m-210,24h210m-210,24h210m-210,24h210m-210,24h210m-210,24h210m-210,24h210m-210,24h210m-210,24h210m-210,24h210m-210,24h210m-210,24h210m-210,24h210m-210,24h210m-210,24h210m-210,24h210m-210,24h210m-210,24h210m-210,24h210m-210,24h210m-210,24h210m-210,24h210"/><rect class="s" y="24" width="210" height="1224"/><rect class="w" y="1248" width="210" height="24"/><path class="s" d="M95.5,1248v24M143,1248v24"/><g class="t" transform="scale(1,1.2)"><text x="56" y="13.75">PROPERTIES</text><text x="4" y="33.75">PROPERTY_ID</text><text x="4" y="53.75">PROPERTY_TYPE_CODE</text><text x="4" y="73.75">EVIDENCE</text><text x="4" y="93.75">DOCUMENT</text><text x="4" y="113.75">TYPE_OF_QUANTITY</text><text x="4" y="133.75">PRIMARY_COLOR</text><text x="4" y="153.75">SECONDARY_COLOR</text><text x="4" y="173.75">DRUG_TYPE</text><text x="4" y="193.75">QUANTITY</text><text x="4" y="213.75">DESCRIPTION</text><text x="4" y="233.75">MAKE</text><text x="4" y="253.75">MODEL</text><text x="4" y="273.75">SERIAL_NUMBER</text><text x="4" y="293.75">VALUE</text><text x="4" y="313.75">MISC</text><text x="4" y="333.75">DOCUMENT_NUMBER</text><text x="4" y="353.75">BANK</text><text x="4" y="373.75">DOCUMENT_DATE</text><text x="4" y="393.75">ACCOUNT_NAME</text><text x="4" y="413.75">ACCOUNT_NUMBER</text><text x="4" y="433.75">PAYABLE_TO</text><text x="4" y="453.75">AMOUNT</text><text x="4" y="473.75">ENDORSEE</text><text x="4" y="493.75">CREATOR_ID</text><text x="4" y="513.75">CREATOR_DATE</text><text x="4" y="533.75">UPDATOR_ID</text><text x="4" y="553.75">UPDATOR_DATE</text><text x="4" y="573.75">BARREL_LENGTH</text><text x="4" y="593.75">CALGAG_CODE</text><text x="4" y="613.75">GUN_ACT_CODE</text><text x="4" y="633.75">GUN_TYP_CODE</text><text x="4" y="653.75">INDX_SEC_LEVEL_CODE</text><text x="4" y="673.75">INDX_SEC_LEVEL_ID</text><text x="4" y="693.75">INDX_SEC_LEVEL_AGENCY</text><text x="4" y="713.75">ACTIVE_SUBSCRIPTION</text><text x="4" y="733.75">CALGAG_CODE_TYPE</text><text x="4" y="753.75">DRUG_TYPE_TYPE</text><text x="4" y="773.75">GUN_ACT_CODE_TYPE</text><text x="4" y="793.75">GUN_TYP_CODE_TYPE</text><text x="4" y="813.75">PRIMARY_COLOR_TYPE</text><text x="4" y="833.75">SECONDARY_COLOR_TYPE</text><text x="4" y="853.75">TYPE_OF_QUANTITY_TYPE</text><text x="4" y="873.75">REC_ID</text><text x="4" y="893.75">DOCUMENT_TYPE</text><text x="4" y="913.75">CURRENCY_CODE</text><text x="4" y="933.75">CURRENCY_CODE_TYPE</text><text x="4" y="953.75">DATE_OF_INFO</text><text x="4" y="973.75">NUM_ROUNDS</text><text x="4" y="993.75">GUN_MAKE_ID</text><text x="4" y="1013.75">LOADED_BY</text><text x="4" y="1033.75">LAST_LOAD_DATE</text><text x="4" y="1053.75">&lt; 21</text><text class="e" x="207" y="1053.75">37 &gt;</text></g></g>

<g id="RV_PROPERTIES" transform="translate(837,1727.5)"><rect class="h" width="132.5" height="24"/><rect class="w" y="24" width="132.5" height="24"/><rect class="w" y="48" width="132.5" height="24"/><path class="s" d="M57,48v24M89,48v24"/><g class="t" transform="scale(1,1.2)"><text x="4" y="13.75">RV_PROPERTIES</text><text x="4" y="33.75">...</text><text x="4" y="53.75">&lt; 3</text><text class="e" x="129.5" y="53.75">1 &gt;</text></g></g>

<g id="USER_FIELD_PROP_VALUES" transform="translate(796.5,1899.5)"><rect class="h" width="213" height="24"/><rect class="w" y="24" width="213" height="24"/><rect class="w" y="48" width="213" height="24"/><path class="s" d="M104,48v24M159,48v24"/><g class="t" transform="scale(1,1.2)"><text x="4" y="13.75">USER_FIELD_PROP_VALUES</text><text x="4" y="33.75">...</text><text x="4" y="53.75">&lt; 2</text></g></g>

<g id="PROPERTY_TYPE_CODES" transform="translate(211.5,2039.5)"><rect class="h" width="199" height="24"/><rect class="w" y="24" width="199" height="24"/><rect class="w" y="48" width="199" height="24"/><path class="s" d="M91,48v24M139,48v24"/><g class="t" transform="scale(1,1.2)"><text x="4" y="13.75">PROPERTY_TYPE_CODES</text><text x="4" y="33.75">...</text><text x="4" y="53.75">&lt; 4</text><text class="e" x="196" y="53.75">1 &gt;</text></g></g>

<g id="BUSINESS_PROPERTY_VW" transform="translate(801.5,2071.5)"><rect class="h" width="204" height="24"/><rect class="w" y="24" width="204" height="24"/><rect class="w" y="48" width="204" height="24"/><path class="s" d="M90.5,48v24M156,48v24"/><g class="t" transform="scale(1,1.2)"><text x="4" y="13.75">BUSINESS_PROPERTY_VW</text><text x="4" y="33.75">...</text><text x="4" y="53.75">&lt; 1</text><text class="e" x="153" y="53.75">view</text></g></g>

<g id="INCIDENT_COMBO_OFCR_VW" transform="translate(792.5,2171.5)"><rect class="h" width="223" height="24"/><rect class="w" y="24" width="223" height="24"/><rect class="w" y="48" width="223" height="24"/><path class="s" d="M99.5,48v24M171.5,48v24"/><g class="t" transform="scale(1,1.2)"><text x="4" y="13.75">INCIDENT_COMBO_OFCR_VW</text><text x="4" y="33.75">...</text><text x="4" y="53.75">&lt; 9</text><text class="e" x="168.5" y="53.75">view</text></g></g>

<g id="EVIDENCE_COC_MOST_RECENT_VW" transform="translate(1095.5,2179.5)"><rect class="h" width="276" height="24"/><rect class="w" y="24" width="276" height="24"/><rect class="w" y="48" width="276" height="24"/><path class="s" d="M125,48v24M210.5,48v24"/><g class="t" transform="scale(1,1.2)"><text x="4" y="13.75">EVIDENCE_COC_MOST_RECENT_VW</text><text x="4" y="33.75">...</text><text x="4" y="53.75">&lt; 5</text><text class="e" x="207.5" y="53.75">view</text></g></g>

<g id="JS_BAIR_MO_FIELDS_VW" transform="translate(808,2272)"><rect class="h" width="189.5" height="24"/><rect class="w" y="24" width="189.5" height="24"/><rect class="w" y="48" width="189.5" height="24"/><path class="s" d="M81.5,48v24M145,48v24"/><g class="t" transform="scale(1,1.2)"><text x="4" y="13.75">JS_BAIR_MO_FIELDS_VW</text><text x="4" y="33.75">...</text><text x="4" y="53.75">&lt; 4</text><text class="e" x="142" y="53.75">view</text></g></g>

<g id="EJS_CODES" transform="translate(17.5,2305.5)"><rect class="h" width="97" height="24"/><rect class="w" y="24" width="97" height="24"/><rect class="w" y="48" width="97" height="24"/><path class="s" d="M21,48v24M41,48v24"/><g class="t" transform="scale(1,1.2)"><text x="4" y="13.75">EJS_CODES</text><text x="4" y="33.75">...</text><text class="e" x="94" y="53.75">1090 &gt;</text></g></g>

<g id="JS_PERMIT_PROPERTY_VW" transform="translate(799.5,2371.5)"><rect class="h" width="209" height="24"/><rect class="w" y="24" width="209" height="24"/><rect class="w" y="48" width="209" height="24"/><path class="s" d="M92.5,48v24M160,48v24"/><g class="t" transform="scale(1,1.2)"><text x="4" y="13.75">JS_PERMIT_PROPERTY_VW</text><text x="4" y="33.75">...</text><text x="4" y="53.75">&lt; 3</text><text class="e" x="157" y="53.75">view</text></g></g>

<g id="PEOPLE_PROPERTY_VW" transform="translate(808,2471.5)"><rect class="h" width="191.5" height="24"/><rect class="w" y="24" width="191.5" height="24"/><rect class="w" y="48" width="191.5" height="24"/><path class="s" d="M84,48v24M147.5,48v24"/><g class="t" transform="scale(1,1.2)"><text x="4" y="13.75">PEOPLE_PROPERTY_VW</text><text x="4" y="33.75">...</text><text x="4" y="53.75">&lt; 1</text><text class="e" x="144.5" y="53.75">view</text></g></g>

<g id="PERMIT_PROPERTIES" transform="translate(820.5,2571.5)"><rect class="h" width="167" height="24"/><rect class="w" y="24" width="167" height="24"/><rect class="w" y="48" width="167" height="24"/><path class="s" d="M80,48v24M122.5,48v24"/><g class="t" transform="scale(1,1.2)"><text x="4" y="13.75">PERMIT_PROPERTIES</text><text x="4" y="33.75">...</text><text x="4" y="53.75">&lt; 2</text></g></g>

<g id="PERMIT_PROPERTIES_VW" transform="translate(804.5,2671.5)"><rect class="h" width="199" height="24"/><rect class="w" y="24" width="199" height="24"/><rect class="w" y="48" width="199" height="24"/><path class="s" d="M87.5,48v24M152.5,48v24"/><g class="t" transform="scale(1,1.2)"><text x="4" y="13.75">PERMIT_PROPERTIES_VW</text><text x="4" y="33.75">...</text><text x="4" y="53.75">&lt; 3</text><text class="e" x="149.5" y="53.75">view</text></g></g>

<g id="PROPERTIES_NOT_DUPLICATES" transform="translate(781.5,2771.5)"><rect class="h" width="243" height="24"/><rect class="w" y="24" width="243" height="24"/><rect class="w" y="48" width="243" height="24"/><path class="s" d="M119,48v24M180.5,48v24"/><g class="t" transform="scale(1,1.2)"><text x="4" y="13.75">PROPERTIES_NOT_DUPLICATES</text><text x="4" y="33.75">...</text><text x="4" y="53.75">&lt; 2</text></g></g>

<g id="PROPERTY_ATTACHMENTS" transform="translate(800.5,2907.5)"><rect class="h" width="205" height="24"/><rect class="w" y="24" width="205" height="24"/><rect class="w" y="48" width="205" height="24"/><path class="s" d="M100,48v24M152,48v24"/><g class="t" transform="scale(1,1.2)"><text x="4" y="13.75">PROPERTY_ATTACHMENTS</text><text x="4" y="33.75">...</text><text x="4" y="53.75">&lt; 2</text></g></g>

<g id="INCIDENT_PROPERTY_VW" transform="translate(1453.5,2975.5)"><rect class="h" width="197" height="24"/><rect class="w" y="24" width="197" height="24"/><rect class="w" y="48" width="197" height="24"/><path class="s" d="M85,48v24M149.5,48v24"/><g class="t" transform="scale(1,1.2)"><text x="4" y="13.75">INCIDENT_PROPERTY_VW</text><text x="4" y="33.75">...</text><text x="4" y="53.75">&lt; 4</text><text class="e" x="146.5" y="53.75">view</text></g></g>

<g id="PROPERTY_DETAILS" transform="translate(824.5,3043.5)"><rect class="h" width="159" height="24"/><rect class="w" y="24" width="159" height="24"/><rect class="w" y="48" width="159" height="24"/><path class="s" d="M76,48v24M117,48v24"/><g class="t" transform="scale(1,1.2)"><text x="4" y="13.75">PROPERTY_DETAILS</text><text x="4" y="33.75">...</text><text x="4" y="53.75">&lt; 2</text></g></g>

<g id="OFFENSES" transform="translate(858,3143.5)"><rect class="h" width="91.5" height="24"/><rect class="w" y="24" width="91.5" height="24"/><rect class="w" y="48" width="91.5" height="24"/><path class="s" d="M37.5,48v24M54.5,48v24"/><g class="t" transform="scale(1,1.2)"><text x="5" y="13.75">OFFENSES</text><text x="4" y="33.75">...</text><text x="4" y="53.75">&lt; 18</text><text class="e" x="88.5" y="53.75">39 &gt;</text></g></g>

<g id="INCIDENT_PROPERTIES" transform="translate(1143.5,3143.5)"><rect class="h" width="180.5" height="24"/><rect class="w" y="24" width="180.5" height="24"/><rect class="w" y="48" width="180.5" height="24"/><path class="s" d="M85.5,48v24M126,48v24"/><g class="t" transform="scale(1,1.2)"><text x="4" y="13.75">INCIDENT_PROPERTIES</text><text x="4" y="33.75">...</text><text x="4" y="53.75">&lt; 15</text><text class="e" x="177.5" y="53.75">4 &gt;</text></g></g>

<g id="footer-note" class="t" transform="translate(16.5,3295) scale(1,1.2)"><text x="0" y="0">Generated by SchemaSpy</text></g>
</svg>
